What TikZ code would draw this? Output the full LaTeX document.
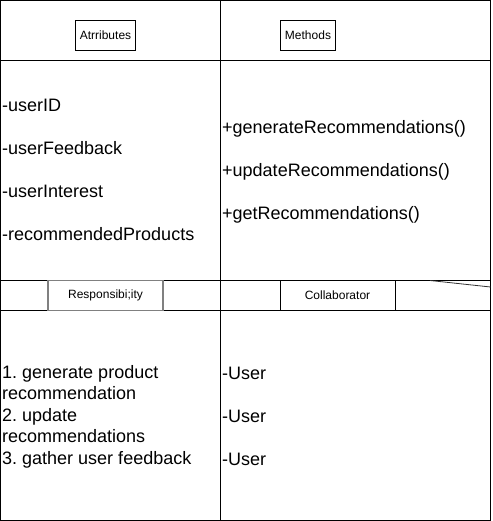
\documentclass[tikz,border=0pt]{standalone}
\usepackage{fontspec}
\setmainfont{Liberation Sans}
\frenchspacing
\usetikzlibrary{positioning}
\tikzset{tag/.style={draw, line width=1pt, inner sep=0pt, font=\fontsize{12}{14}\selectfont},
  item/.style={anchor=west, inner sep=0pt, font=\fontsize{18}{21.5}\selectfont, align=left},
  rule/.style={line width=1pt}}

\begin{document}
\begin{tikzpicture}[x=1pt, y=-1pt]
  \useasboundingbox (0,0) rectangle (492,521);
  % frame and grid
  \draw[rule] (0.5,0.5) rectangle (490.5,520.5);
  \draw[rule] (220.5,0.5) -- (220.5,520.5);
  \draw[rule] (0.5,60.5) -- (490.5,60.5);
  \draw[rule] (0.5,280.5) -- (490.5,280.5);
  \draw[rule] (0.5,310.5) -- (490.5,310.5);
  \draw[line width=0.8pt, black!80] (430,280.5) -- (490.5,287);
  % headers
  \node[tag, minimum width=60pt, minimum height=30pt] (attr) at (105.5,35.5) {Atrributes};
  \node[tag, minimum width=55pt, minimum height=30pt] (meth) at (308,35.5) {Methods};
  \node[tag, draw=gray, line width=1.5pt, minimum width=115pt, minimum height=30pt] (resp) at (105.5,295.5) {Responsibi;ity};
  \node[tag, minimum width=115pt, minimum height=30pt] (collab) at (337.5,295.5) {Collaborator};
  % attributes
  \node[item] (a1) at (2,105.5) {-userID};
  \node[item] (a2) at (2,148.5) {-userFeedback};
  \node[item] (a3) at (2,191.5) {-userInterest};
  \node[item] (a4) at (2,234.5) {-recommendedProducts};
  % methods
  \node[item] (m1) at (222,128.5) {+generateRecommendations()};
  \node[item] (m2) at (222,171.5) {+updateRecommendations()};
  \node[item] (m3) at (222,214.5) {+getRecommendations()};
  % responsibilities
  \node[item] (r1) at (2,416.5) {1. generate product\\recommendation\\2. update\\recommendations\\3. gather user feedback};
  % collaborators
  \node[item] (c1) at (222,373.5) {-User};
  \node[item] (c2) at (222,416.5) {-User};
  \node[item] (c3) at (222,459.5) {-User};
\end{tikzpicture}
\end{document}
